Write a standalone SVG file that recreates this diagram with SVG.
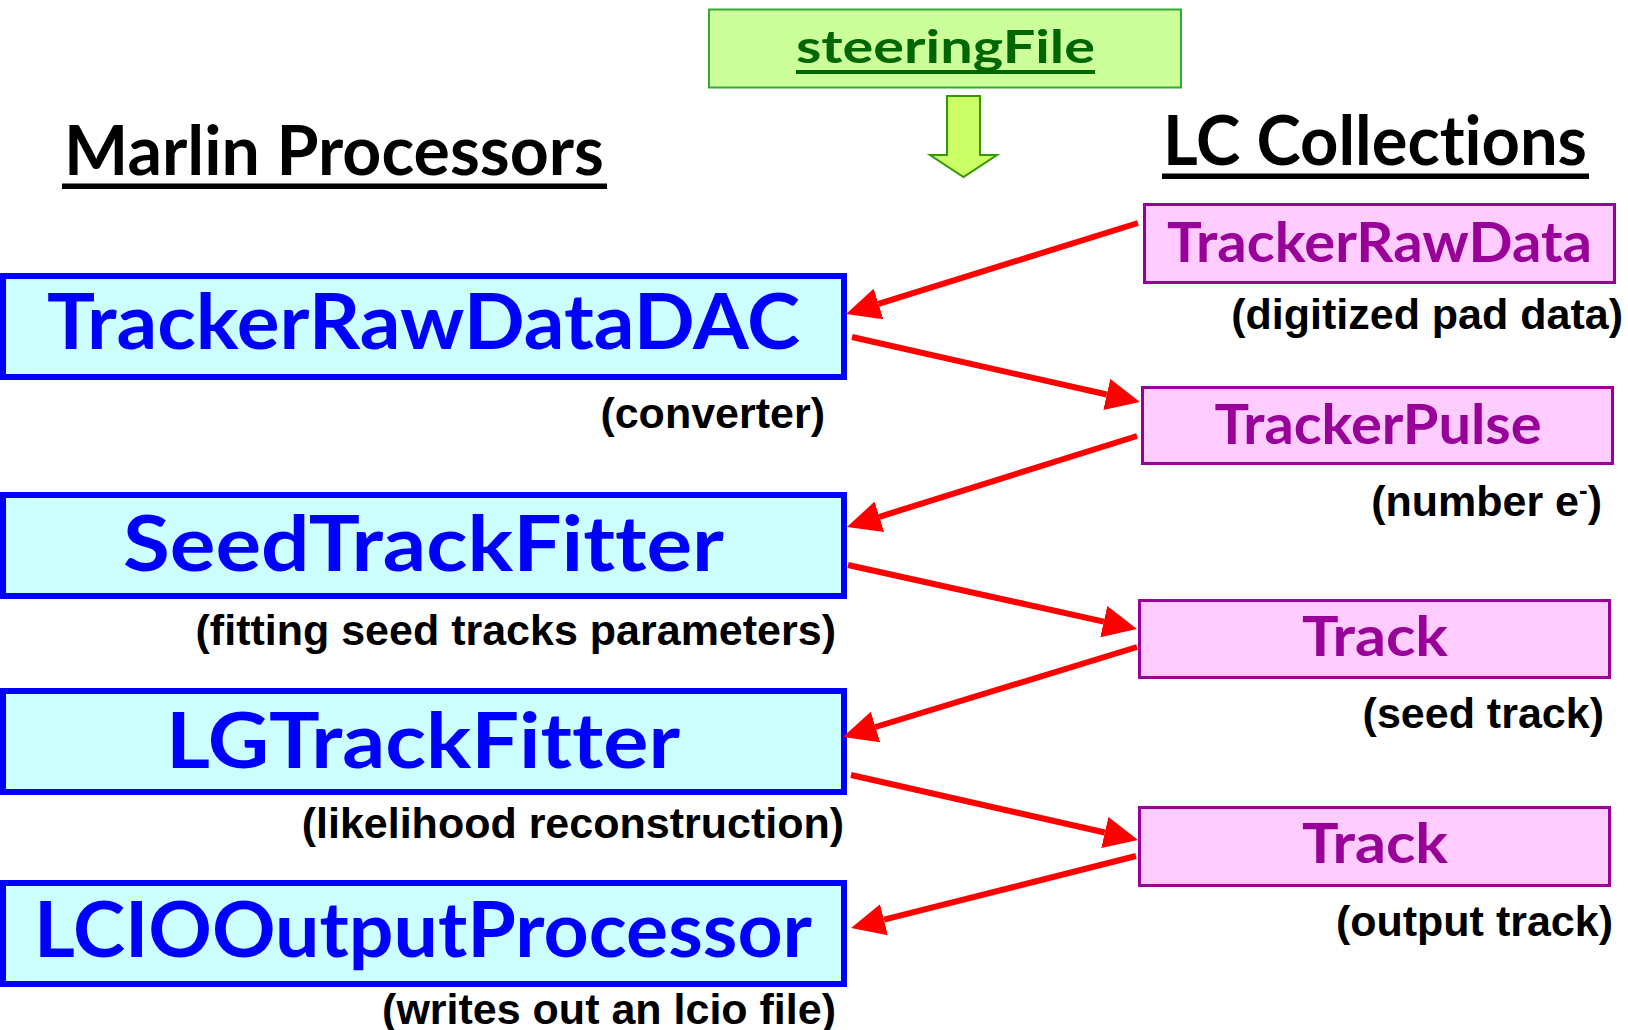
<svg xmlns="http://www.w3.org/2000/svg" width="1628" height="1030" viewBox="0 0 1628 1030">
  <defs>
    <style>
      .comic { font-family: "Comic Sans MS", Lato, "DejaVu Sans", sans-serif; font-weight: bold; text-anchor: middle; font-variant-ligatures: none; }
      .proc-box { fill: #ccffff; stroke: #0000ff; stroke-width: 6; }
      .proc-label { font-size: 76px; fill: #0000ff; }
      .coll-box { fill: #ffccff; stroke: #990099; stroke-width: 3; }
      .coll-label { font-size: 56px; fill: #990099; }
      .heading { font-size: 68px; fill: #000000; }
      .note { font-family: "Liberation Sans", Arial, sans-serif; font-weight: bold; font-size: 43px; fill: #000000; text-anchor: end; }
      .link { fill: none; stroke: #ff0000; stroke-width: 6; marker-end: url(#head); }
    </style>
    <marker id="head" viewBox="0 0 34 32" refX="0" refY="16" markerWidth="34" markerHeight="32" markerUnits="userSpaceOnUse" orient="auto">
      <path d="M0,0 L34,16 L0,32 Z" fill="#ff0000"/>
    </marker>
  </defs>

  <rect width="1628" height="1030" fill="#ffffff"/>

  <!-- steering file -->
  <g id="steeringFile">
    <rect x="709" y="9.5" width="472" height="78" fill="#ccff99" stroke="#33aa33" stroke-width="2"/>
    <text class="comic" x="945.5" y="63" font-size="46" fill="#006600" textLength="299" lengthAdjust="spacingAndGlyphs">steeringFile</text>
    <rect x="796" y="70" width="299" height="4" fill="#006600"/>
    <polygon points="947,96 980,96 980,155 997,155 963.5,177 930,155 947,155" fill="#ccff66" stroke="#339900" stroke-width="2"/>
  </g>

  <!-- column headings -->
  <g id="heading-processors">
    <text class="comic heading" x="334" y="175" textLength="540" lengthAdjust="spacingAndGlyphs">Marlin Processors</text>
    <rect x="62" y="183.5" width="545" height="5.5" fill="#000000"/>
  </g>
  <g id="heading-collections">
    <text class="comic heading" x="1375" y="165" textLength="424" lengthAdjust="spacingAndGlyphs">LC Collections</text>
    <rect x="1162" y="173.5" width="427" height="5.5" fill="#000000"/>
  </g>

  <!-- processors -->
  <g id="TrackerRawDataDAC">
    <rect class="proc-box" x="3" y="276" width="841" height="101"/>
    <text class="comic proc-label" x="423.5" y="349" textLength="753" lengthAdjust="spacingAndGlyphs">TrackerRawDataDAC</text>
    <text class="note" x="825" y="428">(converter)</text>
  </g>
  <g id="SeedTrackFitter">
    <rect class="proc-box" x="3" y="495" width="841" height="101"/>
    <text class="comic proc-label" x="423.5" y="571" textLength="601" lengthAdjust="spacingAndGlyphs">SeedTrackFitter</text>
    <text class="note" x="836" y="645">(fitting seed tracks parameters)</text>
  </g>
  <g id="LGTrackFitter">
    <rect class="proc-box" x="3" y="691" width="841" height="101"/>
    <text class="comic proc-label" x="423" y="768" textLength="514" lengthAdjust="spacingAndGlyphs">LGTrackFitter</text>
    <text class="note" x="844" y="838">(likelihood reconstruction)</text>
  </g>
  <g id="LCIOOutputProcessor">
    <rect class="proc-box" x="3" y="883" width="841" height="101"/>
    <text class="comic proc-label" x="423" y="957" textLength="778" lengthAdjust="spacingAndGlyphs">LCIOOutputProcessor</text>
    <text class="note" x="836" y="1024">(writes out an lcio file)</text>
  </g>

  <!-- collections -->
  <g id="TrackerRawData">
    <rect class="coll-box" x="1144.5" y="204.5" width="470" height="78"/>
    <text class="comic coll-label" x="1379.5" y="262" textLength="425" lengthAdjust="spacingAndGlyphs">TrackerRawData</text>
    <text class="note" x="1623" y="329">(digitized pad data)</text>
  </g>
  <g id="TrackerPulse">
    <rect class="coll-box" x="1142.5" y="387.5" width="470" height="76"/>
    <text class="comic coll-label" x="1378" y="444" textLength="327" lengthAdjust="spacingAndGlyphs">TrackerPulse</text>
    <text class="note" x="1602" y="516">(number e<tspan font-size="26" dy="-17">-</tspan><tspan dy="17">)</tspan></text>
  </g>
  <g id="Track-seed">
    <rect class="coll-box" x="1139.5" y="600.5" width="470" height="77"/>
    <text class="comic coll-label" x="1375" y="656" textLength="146" lengthAdjust="spacingAndGlyphs">Track</text>
    <text class="note" x="1604" y="728">(seed track)</text>
  </g>
  <g id="Track-output">
    <rect class="coll-box" x="1139.5" y="807.5" width="470" height="78"/>
    <text class="comic coll-label" x="1375" y="863" textLength="146" lengthAdjust="spacingAndGlyphs">Track</text>
    <text class="note" x="1613" y="936">(output track)</text>
  </g>

  <!-- data flow between processors and collections -->
  <g id="connectors">
    <path class="link" d="M1138,223 L878.5,303.9"/>
    <path class="link" d="M852,337 L1106.8,394.5"/>
    <path class="link" d="M1137,436 L879.4,516.8"/>
    <path class="link" d="M848,565 L1103.8,621.6"/>
    <path class="link" d="M1137,647 L875.5,727"/>
    <path class="link" d="M851,775 L1104.8,832.5"/>
    <path class="link" d="M1136,856 L884,919.7"/>
  </g>
</svg>
